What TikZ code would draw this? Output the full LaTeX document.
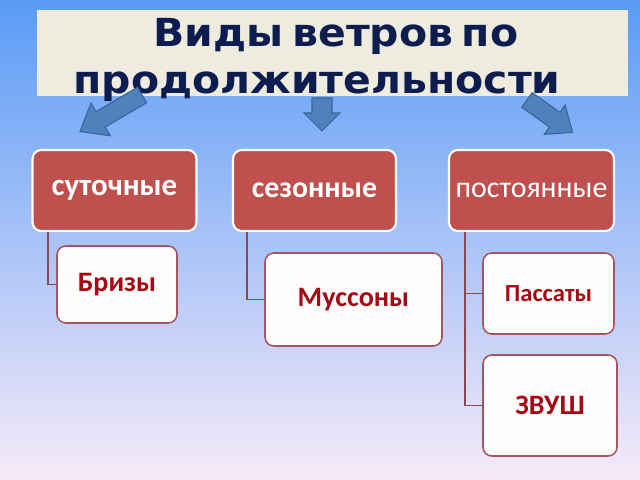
\documentclass[tikz,border=0pt]{standalone}
\usepackage{fontspec}
\setmainfont{Carlito}
\newfontfamily\titlefont[FakeStretch=1.06, WordSpace=0.6]{DejaVu Sans}
\usetikzlibrary{positioning}

\definecolor{bgtop}{HTML}{5A9BF6}
\definecolor{bgbot}{HTML}{F6EAF8}
\definecolor{titlefill}{HTML}{EEEBDF}
\definecolor{titletext}{HTML}{0D1D4F}
\definecolor{kindred}{HTML}{C0504D}
\definecolor{windtext}{HTML}{A50A14}
\definecolor{windline}{HTML}{A5555F}
\definecolor{arrfill}{HTML}{4F81BD}
\definecolor{arrline}{HTML}{3A6496}

\tikzset{
  kind/.style={draw=white, line width=1.2pt, fill=kindred, rounded corners=5pt,
    text=white, font=\fontsize{17}{20}\selectfont, minimum height=1.62cm},
  wind/.style={draw=windline, line width=0.9pt, fill=white!96!pink, rounded corners=5pt,
    text=windtext, font=\bfseries\fontsize{16}{19}\selectfont},
  titleline/.style={text=titletext, anchor=base, inner sep=0pt,
    font=\titlefont\bfseries\fontsize{22}{26}\selectfont},
  conn/.style={draw=windline!85!black, line width=1.1pt},
  windarrow/.style={fill=arrfill, draw=arrline, line width=0.6pt}
}

% block arrow: length, shaft width, head width, head length
\newcommand{\blockarrow}[4]{(0,-#2/2) -- (#1-#4,-#2/2) -- (#1-#4,-#3/2) -- (#1,0)
  -- (#1-#4,#3/2) -- (#1-#4,#2/2) -- (0,#2/2) -- cycle}

\begin{document}
\begin{tikzpicture}[x=0.02cm, y=-0.02cm]
\shade[top color=bgtop, bottom color=bgbot] (0,0) rectangle (640,480);

% title
\node[fill=titlefill, minimum width=11.82cm, minimum height=1.72cm, inner sep=0pt] at (332.5,53) (titlebox) {};
\node[titleline] at (336,47) (titleA) {Виды ветров по};
\node[titleline] at (317,93) (titleB) {продолжительности};

% arrows
\draw[windarrow, shift={(142,95)}, rotate=210.5] \blockarrow{72}{18}{38}{24};
\draw[windarrow, shift={(322,98)}, rotate=270] \blockarrow{33}{20}{36}{18};
\draw[windarrow, shift={(527,100)}, rotate=-35.4] \blockarrow{56}{18}{36}{22};

% kinds of winds
\node[kind, minimum width=3.28cm, font=\bfseries\fontsize{17.6}{20}\selectfont] at (114.5,190.5) (sut) {суточные};
\node[kind, minimum width=3.26cm, font=\bfseries\fontsize{17}{20}\selectfont] at (314.5,190.5) (sez) {сезонные};
\node[kind, minimum width=3.30cm] at (531.5,190.5) (post) {постоянные};

\node[wind, minimum width=2.4cm, minimum height=1.54cm] at (117,284.5) (briz) {Бризы};
\node[wind, minimum width=3.54cm, minimum height=1.86cm] at (353.5,299.5) (muss) {Муссоны};
\node[wind, minimum width=2.62cm, minimum height=1.62cm, font=\bfseries\fontsize{14}{17}\selectfont] at (548.5,293.5) (pass) {Пассаты};
\node[wind, minimum width=2.68cm, minimum height=2.02cm] at (550,405.5) (zvush) {ЗВУШ};

% connectors
\draw[conn] ([xshift=0.34cm]sut.south west) |- (briz.west);
\draw[conn] ([xshift=0.30cm]sez.south west) |- (muss.west);
\draw[conn] ([xshift=0.34cm]post.south west) |- (zvush.west);
\draw[conn] ([xshift=0.34cm]post.south west) |- (pass.west);

\end{tikzpicture}
\end{document}
